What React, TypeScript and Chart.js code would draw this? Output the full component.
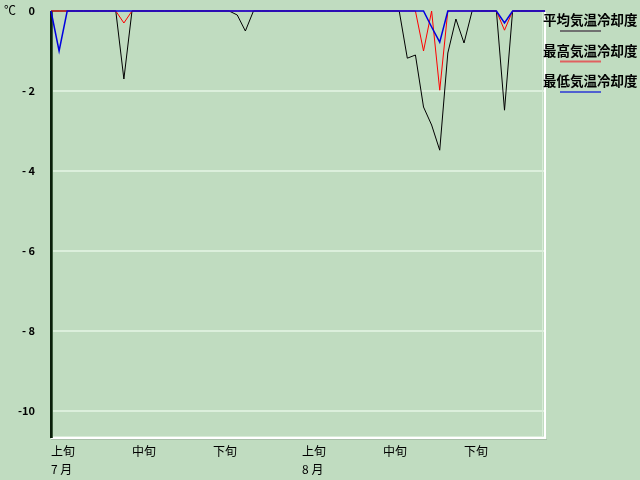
import React, { useEffect, useRef } from "react";
import { Chart, registerables } from "chart.js";

Chart.register(...registerables);

const months = [7, 8];
const monthDays = [31, 31];
const dekadLabels = ["上旬", "中旬", "下旬", "上旬", "中旬", "下旬"];
const dekadIndex = [0, 10, 20, 31, 41, 51];
const monthLabels = ["7 月", "8 月"];
const monthIndex = [0, 31];
const seriesNames = ["平均気温冷却度", "最高気温冷却度", "最低気温冷却度"];
const yTicks = [0, -2, -4, -6, -8, -10];

const avgValues = [
  0, 0, 0, 0, 0, 0, 0, 0, 0, -1.7,
  0, 0, 0, 0, 0, 0, 0, 0, 0, 0,
  0, 0, 0, -0.1, -0.5, 0, 0, 0, 0, 0,
  0, 0, 0, 0, 0, 0, 0, 0, 0, 0,
  0, 0, 0, 0, -1.18, -1.1, -2.4, -2.85, -3.48, -1.05,
  -0.2, -0.8, 0, 0, 0, 0, -2.48, 0, 0, 0,
  0, 0,
];
const maxValues = [
  0, 0, 0, 0, 0, 0, 0, 0, 0, -0.3,
  0, 0, 0, 0, 0, 0, 0, 0, 0, 0,
  0, 0, 0, 0, 0, 0, 0, 0, 0, 0,
  0, 0, 0, 0, 0, 0, 0, 0, 0, 0,
  0, 0, 0, 0, 0, 0, -1.0, 0, -1.98, 0,
  0, 0, 0, 0, 0, 0, -0.48, 0, 0, 0,
  0, 0,
];
const minValues = [
  0, -1.0, 0, 0, 0, 0, 0, 0, 0, 0,
  0, 0, 0, 0, 0, 0, 0, 0, 0, 0,
  0, 0, 0, 0, 0, 0, 0, 0, 0, 0,
  0, 0, 0, 0, 0, 0, 0, 0, 0, 0,
  0, 0, 0, 0, 0, 0, 0, -0.4, -0.78, 0,
  0, 0, 0, 0, 0, 0, -0.3, 0, 0, 0,
  0, 0,
];

const lineColors = ["#000000", "#ff0000", "#0000e0"];
const legendColors = ["#707070", "#e06060", "#5060d0"];
const BG = "#c0dcc0";
const FONT = "'Noto Sans CJK JP', 'Noto Sans', sans-serif";

const categories: string[] = [];
months.forEach((m, mi) => {
  for (let d = 1; d <= monthDays[mi]; d++) categories.push(`${m}/${d}`);
});

const decorPlugin = {
  id: "decor",
  beforeDraw(chart: any) {
    const ctx = chart.ctx;
    ctx.save();
    ctx.fillStyle = BG;
    ctx.fillRect(0, 0, chart.width, chart.height);
    ctx.restore();
  },
  beforeDatasetsDraw(chart: any) {
    const ctx = chart.ctx;
    const a = chart.chartArea;
    ctx.save();
    ctx.fillStyle = "#d8ecd8";
    ctx.fillRect(a.right - 3, a.top + 1, 1, a.bottom - a.top);
    ctx.fillRect(a.left, a.bottom - 1, a.right - a.left, 1);
    ctx.fillStyle = "#ffffff";
    ctx.fillRect(a.right - 1, a.top + 1, 2, a.bottom - a.top + 2);
    ctx.fillRect(a.left, a.bottom, a.right - a.left + 1, 2);
    ctx.fillStyle = "#a8c0a8";
    ctx.fillRect(a.left, a.bottom + 2, a.right - a.left + 2, 1);
    ctx.fillStyle = "#0a1e0a";
    ctx.fillRect(a.left - 1, a.top, 2, a.bottom - a.top + 1);
    ctx.fillStyle = "#3c5a3c";
    ctx.fillRect(a.left + 1, a.top, 1, a.bottom - a.top + 1);
    ctx.restore();
  },
  afterDraw(chart: any) {
    const ctx = chart.ctx;
    ctx.save();
    ctx.fillStyle = "#000000";
    ctx.font = `12px ${FONT}`;
    ctx.textAlign = "left";
    ctx.textBaseline = "middle";
    ctx.fillText("℃", 4, 10);
    ctx.font = `bold 13.5px ${FONT}`;
    seriesNames.forEach((name, i) => {
      const y = 20 + i * 30.5;
      ctx.fillStyle = "#000000";
      ctx.fillText(name, 543, y);
      ctx.strokeStyle = legendColors[i];
      ctx.lineWidth = 2;
      ctx.beginPath();
      ctx.moveTo(560, y + 11);
      ctx.lineTo(601, y + 11);
      ctx.stroke();
    });
    ctx.restore();
  },
};

export default function App() {
  const ref = useRef<HTMLCanvasElement | null>(null);
  useEffect(() => {
    document.body.style.margin = "0";
    const canvas = ref.current;
    if (!canvas) return;
    const datasets = [avgValues, maxValues, minValues].map((vals, i) => ({
      label: seriesNames[i],
      data: vals,
      borderColor: lineColors[i],
      backgroundColor: lineColors[i],
      borderWidth: i === 2 ? 1.5 : 1,
      pointRadius: 0,
      tension: 0,
      fill: false,
      clip: false,
      order: 3 - i,
    }));
    const chart = new Chart(canvas, {
      type: "line",
      data: { labels: categories, datasets },
      plugins: [decorPlugin],
      options: {
        animation: false,
        responsive: false,
        layout: { padding: { top: 11, right: 95, left: 0, bottom: 0 } },
        plugins: { legend: { display: false }, tooltip: { enabled: false } },
        scales: {
          x: {
            type: "category",
            offset: false,
            grid: { display: false, drawTicks: false },
            border: { display: false },
            afterFit: (s: any) => {
              s.height = 43;
              s.paddingLeft = 0;
              s.paddingRight = 0;
            },
            ticks: {
              autoSkip: false,
              maxRotation: 0,
              minRotation: 0,
              align: "start",
              padding: 5,
              color: "#000000",
              font: { family: FONT, size: 12, lineHeight: 1.5 },
              callback: (_v: any, idx: number) => {
                const d = dekadIndex.indexOf(idx);
                if (d < 0) return "";
                const m = monthIndex.indexOf(idx);
                return m >= 0 ? [dekadLabels[d], monthLabels[m]] : dekadLabels[d];
              },
            },
          },
          y: {
            type: "linear",
            min: -10.65,
            max: 0,
            grid: {
              color: (c: any) => (c.tick && c.tick.value === 0 ? "rgba(0,0,0,0)" : "#dcefdc"),
              lineWidth: 2,
              drawTicks: false,
            },
            border: { display: false },
            afterFit: (s: any) => {
              s.width = 51;
              s.paddingTop = 0;
              s.paddingBottom = 0;
            },
            afterBuildTicks: (s: any) => {
              s.ticks = yTicks.map((v) => ({ value: v }));
            },
            ticks: {
              padding: 16,
              color: "#000000",
              font: { family: FONT, size: 11, weight: "bold" },
              callback: (v: any) => {
                const n = Number(v);
                if (n === 0) return "0";
                if (n > -10) return "- " + Math.abs(n);
                return String(n);
              },
            },
          },
        },
      },
    });
    return () => chart.destroy();
  }, []);
  return (
    <div style={{ width: 640, height: 480, background: BG }}>
      <canvas ref={ref} width={640} height={480} style={{ display: "block" }} />
    </div>
  );
}
